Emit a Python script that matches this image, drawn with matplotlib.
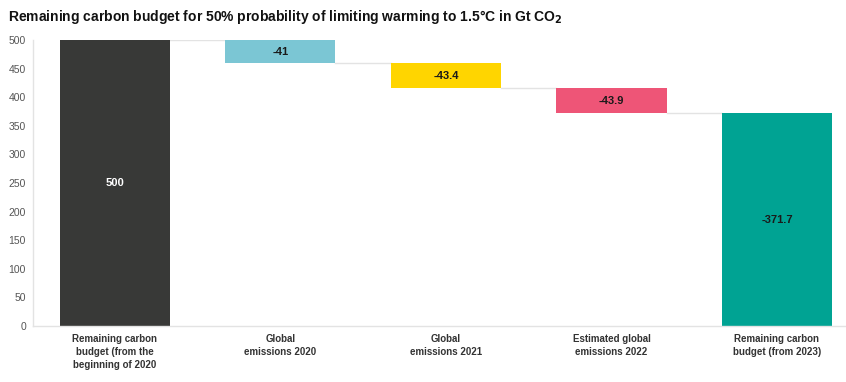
import matplotlib
matplotlib.use("Agg")
import matplotlib.pyplot as plt

categories = ["Remaining carbon\nbudget (from the\nbeginning of 2020",
              "Global\nemissions 2020",
              "Global\nemissions 2021",
              "Estimated global\nemissions 2022",
              "Remaining carbon\nbudget (from 2023)"]
start_value = 500
changes = [-41, -43.4, -43.9]
end_label = "-371.7"
colors = ["#383937", "#7BC6D4", "#FFD500", "#EE5577", "#00A393"]
yticks = [0, 50, 100, 150, 200, 250, 300, 350, 400, 450, 500]

plt.rcParams['font.family'] = ['Liberation Sans', 'DejaVu Sans']

fig = plt.figure(figsize=(8.46, 3.82), dpi=100)
ax = fig.add_axes([33/846, (382-326)/382, (846-33)/846, (326-40)/382])

width = 0.665
bottoms = []
heights = []
labels = []
level = start_value
bottoms.append(0); heights.append(start_value); labels.append(str(start_value))
for c in changes:
    new = level + c
    bottoms.append(new); heights.append(-c); labels.append(f"{c:g}")
    level = new
bottoms.append(0); heights.append(level); labels.append(end_label)

xs = list(range(len(categories)))
ax.bar(xs, heights, bottom=bottoms, width=width, color=colors, zorder=2)

# connectors
levels = [start_value]
lv = start_value
for c in changes:
    lv += c
    levels.append(lv)
for i, l in enumerate(levels):
    ax.plot([i + width/2, i + 1 - width/2], [l, l], color="#e3e3e3", lw=1, zorder=1)

for i, (b, h, lab) in enumerate(zip(bottoms, heights, labels)):
    col = "white" if i == 0 else "#1a1a1a"
    ax.text(i, b + h/2, lab, ha="center", va="center", fontsize=8,
            fontweight="bold", color=col, zorder=3)

ax.set_xlim(-0.495, 4.417)
ax.set_ylim(0, 500)
ax.set_yticks(yticks)
ax.set_xticks(xs)
ax.set_xticklabels(categories, fontsize=7, fontweight="bold", color="#333333",
                   linespacing=1.35, va="top")
ax.tick_params(axis="x", length=0, pad=6)
ax.tick_params(axis="y", length=0, labelsize=7.5, labelcolor="#555555", pad=5)
for s in ["top", "right"]:
    ax.spines[s].set_visible(False)
for s in ["left", "bottom"]:
    ax.spines[s].set_color("#e3e3e3")
    ax.spines[s].set_linewidth(1)

fig.text(8/846, 1 - 17/382, "Remaining carbon budget for 50% probability of limiting warming to 1.5°C in Gt CO$_\\mathbf{2}$",
         fontsize=10, fontweight="bold", va="center", ha="left", color="#111111")

fig.savefig("out.png", dpi=100)
